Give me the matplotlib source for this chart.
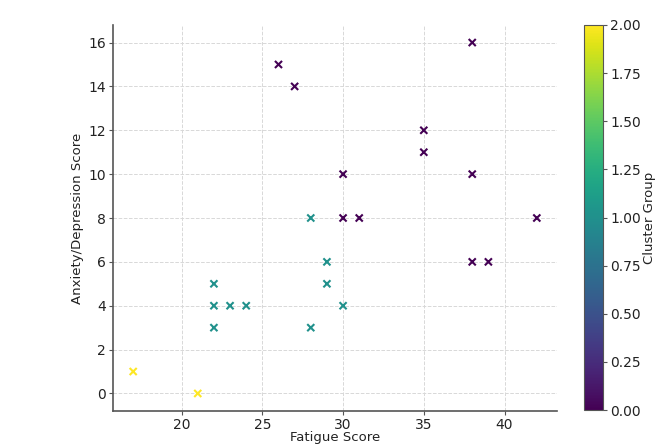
import matplotlib
matplotlib.use("Agg")
import matplotlib.pyplot as plt
import numpy as np

fatigue = [26, 27, 38, 35, 35, 30, 38, 30, 31, 42, 38, 39,
           28, 29, 22, 29, 22, 23, 24, 30, 22, 28,
           17, 21]
anxiety = [15, 14, 16, 12, 11, 10, 10, 8, 8, 8, 6, 6,
           8, 6, 5, 5, 4, 4, 4, 4, 3, 3,
           1, 0]
cluster = [0]*12 + [1]*10 + [2]*2

plt.rcParams['font.family'] = ['DejaVu Sans']
plt.rcParams['font.size'] = 9.5

fig = plt.figure(figsize=(6.69, 4.46), dpi=100)
ax = fig.add_axes([113/669, 1-411/446, (557-113)/669, (411-25)/446])
cax = fig.add_axes([584/669, 1-410/446, 19/669, (410-25)/446])

sc = ax.scatter(fatigue, anxiety, c=cluster, cmap='viridis', marker='x', s=26, linewidths=1.5)
ax.set_xlim(15.75, 43.25)
ax.set_ylim(-0.8, 16.8)
ax.set_xticks([20, 25, 30, 35, 40])
ax.set_yticks(range(0, 17, 2))
ax.grid(True, linestyle='--', color='#d8d8d8', linewidth=0.7)
ax.set_axisbelow(True)
for s in ['top', 'right']:
    ax.spines[s].set_visible(False)
for s in ['left', 'bottom']:
    ax.spines[s].set_color('#555555')
    ax.spines[s].set_linewidth(1.2)
ax.tick_params(axis='both', colors='#555555', labelcolor='#222222', length=3, pad=2, labelsize=10)
ax.set_xlabel('Fatigue Score', color='#222222')
ax.xaxis.set_label_coords(0.5, -26/386)
ax.xaxis.label.set_va('center')
ax.set_ylabel('Anxiety/Depression Score', color='#222222', labelpad=3)

cb = fig.colorbar(sc, cax=cax)
cb.set_ticks(np.arange(0, 2.01, 0.25))
cb.ax.yaxis.set_major_formatter(matplotlib.ticker.FormatStrFormatter('%.2f'))
cb.ax.tick_params(colors='#555555', labelcolor='#222222', length=3, pad=2, labelsize=10)
cb.set_label('Cluster Group', color='#222222', labelpad=2)
cb.outline.set_edgecolor('#555555')

fig.savefig('out.png', dpi=100)
